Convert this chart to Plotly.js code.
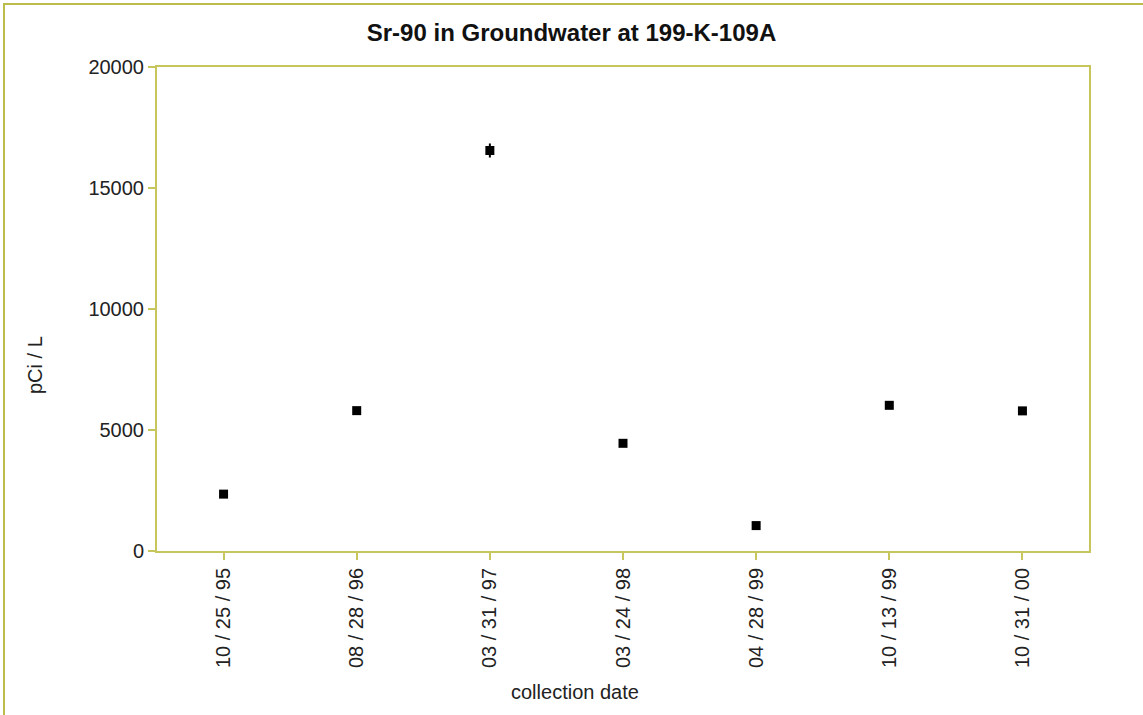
<!DOCTYPE html>
<html>
<head>
<meta charset="utf-8">
<script src="https://cdn.plot.ly/plotly-3.0.1.min.js"></script>
<style>
  html, body { margin: 0; padding: 0; background: #ffffff; overflow: hidden; }
  #frame { position: absolute; left: 3px; top: 3px; width: 2000px; height: 2000px;
           border-left: 2px solid #bcbc48; border-top: 2px solid #bcbc48; }
  #chart { position: absolute; left: 0; top: 0; width: 1143px; height: 715px; }
</style>
</head>
<body>
<div id="frame"></div>
<div id="chart"></div>
<script>
// Data
var dates = ['10 / 25 / 95', '08 / 28 / 96', '03 / 31 / 97', '03 / 24 / 98', '04 / 28 / 99', '10 / 13 / 99', '10 / 31 / 00'];
var values = [2350, 5800, 16550, 4450, 1050, 6020, 5790];
var errors = [100, 150, 290, 120, 60, 150, 150];
var yTicks = [0, 5000, 10000, 15000, 20000];

var axisColor = '#c6c65c';
var font = 'Liberation Sans, Arial, sans-serif';

var trace = {
  type: 'scatter',
  mode: 'markers',
  x: dates,
  y: values,
  error_y: { type: 'data', array: errors, visible: true, color: '#000000', thickness: 2, width: 0 },
  marker: { symbol: 'square', size: 9, color: '#000000' },
  hoverinfo: 'x+y'
};

var layout = {
  width: 1143,
  height: 715,
  margin: { l: 157, r: 54, t: 67, b: 164 },
  paper_bgcolor: 'rgba(0,0,0,0)',
  plot_bgcolor: '#ffffff',
  showlegend: false,
  font: { family: font, size: 20, color: '#222222' },
  title: {
    text: 'Sr-90 in Groundwater at 199-K-109A',
    font: { family: font, size: 24, color: '#111111', weight: 'bold' },
    x: 0.5, xref: 'container', xanchor: 'center',
    y: 1 - 33 / 715, yref: 'container', yanchor: 'middle'
  },
  xaxis: {
    type: 'category',
    range: [-0.5, 6.5],
    showgrid: false,
    zeroline: false,
    showline: true, mirror: true,
    linecolor: axisColor, linewidth: 2,
    ticks: 'outside', ticklen: 7, tickwidth: 2, tickcolor: axisColor,
    tickangle: -90,
    tickfont: { family: font, size: 20, color: '#222222' },
    fixedrange: true
  },
  yaxis: {
    range: [0, 20000],
    tickvals: yTicks,
    ticktext: yTicks.map(String),
    showgrid: false,
    zeroline: false,
    showline: true, mirror: true,
    linecolor: axisColor, linewidth: 2,
    ticks: 'outside', ticklen: 7, tickwidth: 2, tickcolor: axisColor,
    tickfont: { family: font, size: 20, color: '#222222' },
    fixedrange: true
  },
  annotations: [
    {
      text: 'collection date', showarrow: false,
      xref: 'paper', yref: 'paper',
      x: (575 - 157) / 932, y: (551 - 692) / 484,
      xanchor: 'center', yanchor: 'middle',
      font: { family: font, size: 20, color: '#222222' }
    },
    {
      text: 'pCi / L', showarrow: false, textangle: -90,
      xref: 'paper', yref: 'paper',
      x: (35 - 157) / 932, y: (551 - 365) / 484,
      xanchor: 'center', yanchor: 'middle',
      font: { family: font, size: 20, color: '#222222' }
    }
  ]
};

Plotly.newPlot('chart', [trace], layout, { displayModeBar: false, staticPlot: false });
</script>
</body>
</html>
